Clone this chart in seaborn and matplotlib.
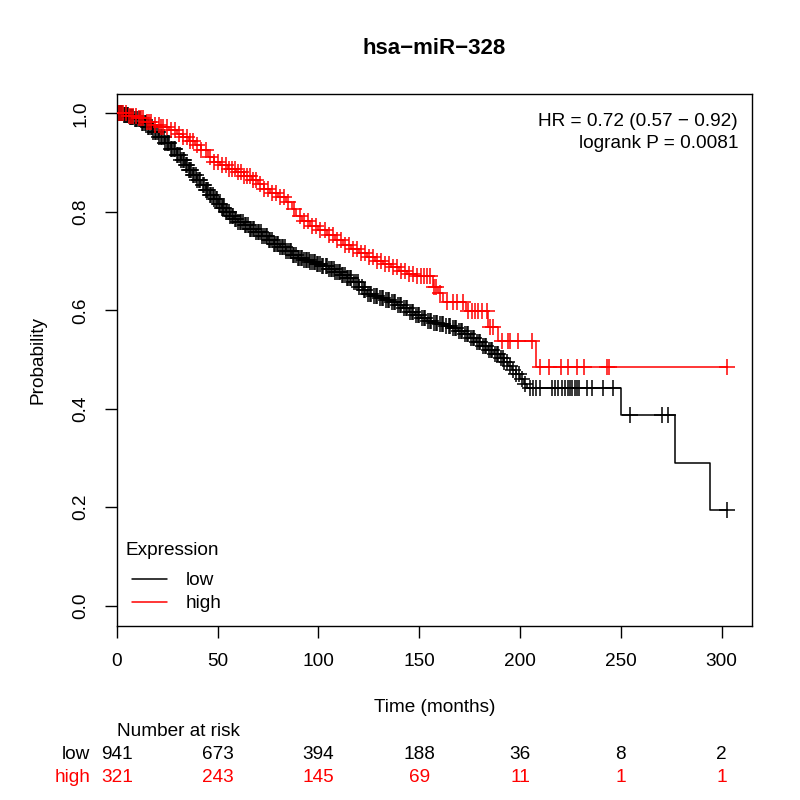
import numpy as np
import pandas as pd
import matplotlib
matplotlib.use("Agg")
import matplotlib.pyplot as plt
from matplotlib.lines import Line2D
import seaborn as sns

sns.set_theme(style="white")
plt.rcParams["font.family"] = ["Liberation Sans", "DejaVu Sans"]
plt.rcParams["text.color"] = "black"

title = "hsa\u2212miR\u2212328"
hr_lines = ["HR = 0.72 (0.57 \u2212 0.92)", "logrank P = 0.0081"]

# Kaplan-Meier steps (time in months, survival)
low_time = [0, 3, 6, 9, 12, 15, 18, 21, 24, 27, 30, 32, 34, 36, 38, 40, 42, 44, 46, 48,
            50, 52, 54, 56, 58, 60, 63, 66, 69, 72, 75, 78, 81, 84, 87, 90, 93, 96, 99,
            102, 105, 108, 111, 114, 117, 120, 122, 124, 127, 130, 133, 136, 139, 142,
            145, 148, 151, 154, 157, 160, 163, 166, 169, 172, 175, 178, 181, 184, 187,
            190, 192, 194, 196, 198, 200, 202, 203.5, 250, 277, 294]
low_surv = [1.0, 0.997, 0.993, 0.988, 0.981, 0.972, 0.962, 0.951, 0.940, 0.928, 0.915,
            0.905, 0.895, 0.885, 0.875, 0.865, 0.855, 0.845, 0.835, 0.825, 0.815, 0.807,
            0.799, 0.792, 0.786, 0.780, 0.773, 0.766, 0.758, 0.750, 0.742, 0.735, 0.728,
            0.720, 0.713, 0.707, 0.703, 0.699, 0.694, 0.689, 0.683, 0.677, 0.671, 0.665,
            0.657, 0.648, 0.641, 0.634, 0.628, 0.624, 0.620, 0.616, 0.611, 0.604, 0.597,
            0.590, 0.584, 0.579, 0.575, 0.572, 0.568, 0.563, 0.558, 0.551, 0.543, 0.536,
            0.528, 0.519, 0.511, 0.503, 0.495, 0.487, 0.479, 0.470, 0.460, 0.450, 0.443,
            0.387, 0.290, 0.194]
low_censor = [0.5, 1, 1.5, 2, 2.5, 3.5, 4, 4.5, 5, 5.5, 6.5, 7, 7.5, 8, 9, 9.5, 10, 11,
              11.5, 12.5, 13, 14, 14.5, 15.5, 16, 17, 17.5, 18, 19, 19.5, 20.5, 21, 22,
              22.5, 23.5, 24, 25, 25.5, 26, 27, 27.5, 28.5, 29, 30, 30.5, 31.5, 32, 33,
              33.5, 34.5, 35, 36, 36.5, 37, 38, 38.5, 39.5, 40, 41, 41.5, 42.5, 43, 44,
              44.5, 45, 46, 46.5, 47.5, 48, 49, 49.5, 50.5, 51, 52, 52.5, 53, 54, 54.5,
              55.5, 56, 57, 57.5, 58.5, 59, 60, 61, 61.5, 62.5, 63.5, 64, 65, 66, 66.5,
              67.5, 68, 69, 70, 70.5, 71.5, 72, 73, 74, 74.5, 75.5, 76, 77, 78, 78.5,
              79.5, 80, 81, 82, 82.5, 83.5, 84, 85, 86, 86.5, 87.5, 88, 89, 90, 90.5,
              91.5, 92, 93, 94, 94.5, 95.5, 96, 97, 98, 98.5, 99.5, 100, 101, 102, 102.5,
              103.5, 104, 105, 106, 106.5, 107.5, 108, 109, 110, 110.5, 111.5, 112, 113,
              114, 114.5, 115.5, 116, 117.5, 118.5, 119.5, 120, 121.5, 122.5, 123,
              124.5, 125.5, 126, 127.5, 128.5, 129, 130.5, 131.5, 132, 133.5, 134.5,
              135, 136.5, 137.5, 138, 139.5, 140.5, 141, 142.5, 143.5, 144, 145.5,
              146.5, 147, 148.5, 149.5, 150, 151.5, 152.5, 153, 154.5, 155.5, 156,
              157.5, 158.5, 159, 160.5, 161.5, 162, 163.5, 164.5, 165, 166.5, 167.5,
              168, 169.5, 170.5, 171, 172.5, 173.5, 174, 175.5, 176.5, 177, 178.5,
              179.5, 180, 181.5, 182.5, 183, 184.5, 185.5, 186, 187.5, 188.5, 189,
              190.5, 191.5, 192, 193.5, 195, 196.5, 198, 199.5, 201, 202.5, 205, 206.5,
              208, 210, 215.7, 217.3, 218.8, 220.6, 222.3, 223.8, 224.8, 225.6, 227.3,
              228.4, 229, 233, 235.5, 241, 246, 254.5, 270.2, 273.5, 302.4]

high_time = [0, 5, 10, 14, 18, 22, 26, 30, 33, 36, 39, 42, 45, 48, 51, 55, 59, 63, 67,
             70, 73, 76, 80, 84, 87, 89, 92, 96, 100, 104, 108, 112, 116, 120, 124, 128,
             132, 136, 140, 144, 149, 157, 159.5, 162, 173, 184, 189, 208]
high_surv = [1.0, 0.995, 0.99, 0.982, 0.977, 0.972, 0.966, 0.958, 0.951, 0.944, 0.936,
             0.925, 0.912, 0.902, 0.894, 0.887, 0.880, 0.873, 0.864, 0.856, 0.847, 0.839,
             0.830, 0.819, 0.806, 0.792, 0.782, 0.772, 0.763, 0.753, 0.743, 0.733, 0.724,
             0.716, 0.708, 0.700, 0.694, 0.687, 0.680, 0.674, 0.669, 0.648, 0.635, 0.617,
             0.598, 0.567, 0.538, 0.484]
high_censor = [1, 2, 3, 4.5, 6, 7, 8, 9.5, 11, 12, 13, 15, 16, 17, 19, 21, 22, 23, 25, 27,
               29, 31, 33, 35, 36.5, 38, 40, 42, 44, 46, 48, 50, 52, 54, 55.5, 57, 58.5,
               60, 61.5, 63, 64.5, 66, 67.5, 69, 71, 73, 75, 77, 79, 81, 83, 85, 88, 91,
               93, 95, 97, 99, 101, 103, 105, 107, 109, 111, 113, 115, 117, 119, 121,
               123, 125, 127, 129, 131, 133, 135, 137, 139, 141, 143, 145, 147, 149, 151,
               152.5, 154, 155.5, 157.5, 158.5, 160.5, 163.6, 166.9, 168.6, 171.8, 174.3,
               176, 177.6, 179.3, 181, 183.4, 185, 186.7, 190.9, 194.2, 195, 199, 205.7,
               209.9, 214.5, 220.3, 223.9, 228, 231.8, 242.9, 244.2, 302.7]

risk_times = [0, 50, 100, 150, 200, 250, 300]
risk_low = [941, 673, 394, 188, 36, 8, 2]
risk_high = [321, 243, 145, 69, 11, 1, 1]

groups = ["low", "high"]
colors = {"low": "black", "high": "red"}
curves = {"low": (low_time, low_surv, low_censor),
          "high": (high_time, high_surv, high_censor)}
fs = 13.7

fig = plt.figure(figsize=(8, 8), dpi=100)
ax = fig.add_axes([0.146, 0.217, 0.794, 0.666])

for g in groups:
    t, s, c = curves[g]
    t = np.array(t, dtype=float)
    s = np.array(s, dtype=float)
    c = np.array(c, dtype=float)
    # run the curve out to the last censored subject
    line = pd.DataFrame({"time": np.append(t, c.max()), "surv": np.append(s, s[-1])})
    sns.lineplot(data=line, x="time", y="surv", drawstyle="steps-post", estimator=None,
                 color=colors[g], linewidth=1.1, ax=ax)
    idx = np.searchsorted(t, c, side="right") - 1
    cens = pd.DataFrame({"time": c, "surv": s[idx]})
    sns.scatterplot(data=cens, x="time", y="surv", marker="+", s=120, color=colors[g],
                    linewidth=1.1, ax=ax, zorder=3)

ax.set_xlim(0, 315)
ax.set_ylim(-0.042, 1.04)
ax.set_xticks(risk_times)
ax.set_yticks([0, 0.2, 0.4, 0.6, 0.8, 1.0])
ax.set_yticklabels(["0.0", "0.2", "0.4", "0.6", "0.8", "1.0"], rotation=90, va="center")
ax.tick_params(bottom=True, left=True, length=8.5, width=1, color="black",
               labelsize=fs, labelcolor="black")
ax.tick_params(axis="x", pad=11)
ax.tick_params(axis="y", pad=11)
ax.set_xlabel("")
ax.set_ylabel("")
for sp in ax.spines.values():
    sp.set_color("black")
    sp.set_linewidth(1.0)

handles = [Line2D([], [], color=colors[g], linewidth=1.1) for g in groups]
leg = ax.legend(handles, groups, loc="lower left", bbox_to_anchor=(-0.003, -0.006),
                frameon=False, fontsize=fs, handlelength=1.85, handletextpad=0.95,
                labelspacing=0.3)
for txt in leg.get_texts():
    txt.set_color("black")
ax.text(0.013, 0.142, "Expression", transform=ax.transAxes, ha="left", va="center",
        fontsize=fs)

ax.text(0.978, 0.948, hr_lines[0], transform=ax.transAxes, ha="right", va="center",
        fontsize=fs)
ax.text(0.978, 0.906, hr_lines[1], transform=ax.transAxes, ha="right", va="center",
        fontsize=fs)

fig.text(0.543, 0.94, title, ha="center", va="center", fontsize=16, fontweight="bold")
fig.text(0.543, 0.116, "Time (months)", ha="center", va="center", fontsize=fs)
fig.text(0.0475, 0.55, "Probability", ha="center", va="center", fontsize=fs, rotation=90)

trans = matplotlib.transforms.blended_transform_factory(ax.transData, fig.transFigure)
fig.text(0.146, 0.0855, "Number at risk", ha="left", va="center", fontsize=fs)
fig.text(0.1125, 0.0565, "low", ha="right", va="center", fontsize=fs, color="black")
fig.text(0.1125, 0.0285, "high", ha="right", va="center", fontsize=fs, color="red")
for t, nl, nh in zip(risk_times, risk_low, risk_high):
    ax.text(t, 0.0565, str(nl), transform=trans, ha="center", va="center", fontsize=fs,
            color="black", clip_on=False)
    ax.text(t, 0.0285, str(nh), transform=trans, ha="center", va="center", fontsize=fs,
            color="red", clip_on=False)

fig.savefig("out.png", dpi=100)
